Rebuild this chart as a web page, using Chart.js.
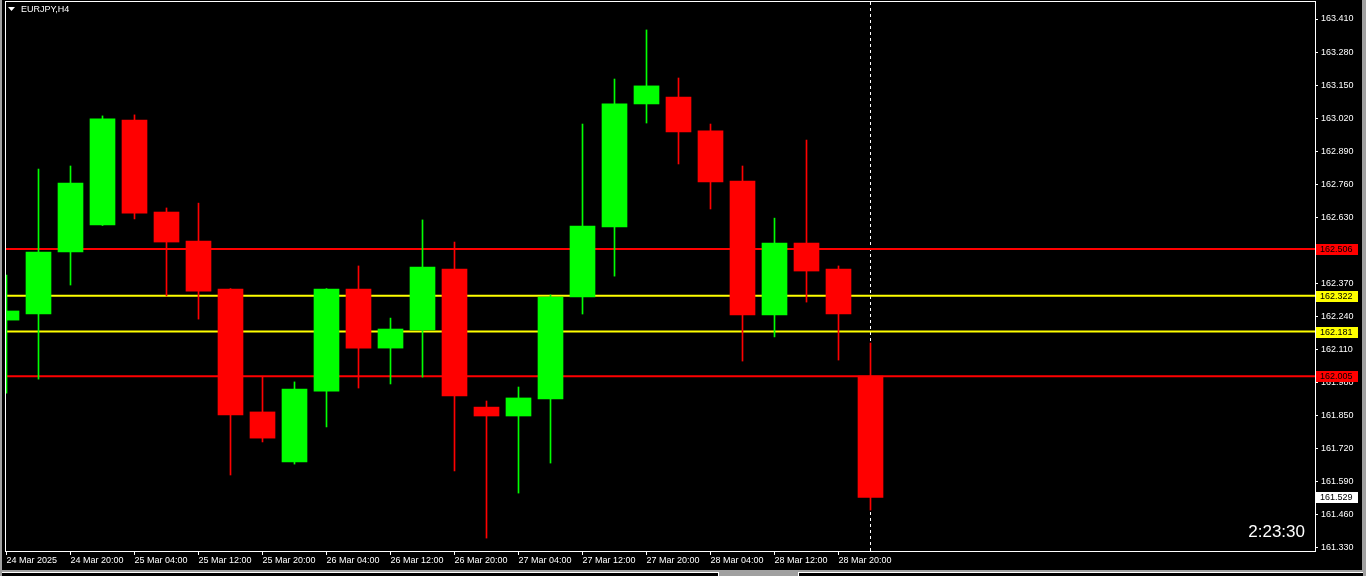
<!DOCTYPE html>
<html><head><meta charset="utf-8">
<script src="https://cdn.jsdelivr.net/npm/chart.js@4/dist/chart.umd.min.js"></script>
<style>
html,body{margin:0;padding:0;background:#000;overflow:hidden;}
#wrap{position:relative;width:1366px;height:576px;background:#000;}
canvas{position:absolute;left:0;top:0;}
.s{position:absolute;}
</style></head><body>
<div id="wrap">
<canvas id="c" width="1366" height="576"></canvas>
<div class="s" style="left:0;top:0;width:2px;height:576px;background:#a0a0a0"></div>
<div class="s" style="left:1362px;top:0;width:4px;height:576px;background:#a0a0a0"></div>
<div class="s" style="left:0;top:570px;width:1366px;height:6px;background:#a0a0a0"></div>
<div class="s" style="left:2px;top:572px;width:716px;height:4px;background:#000;border-top:1px solid #fff;border-right:1px solid #fff"></div>
<div class="s" style="left:798px;top:572px;width:564px;height:4px;background:#000;border-top:1px solid #fff;border-left:1px solid #fff"></div>
</div>
<script>
// ---- data ----
const symbolTitle = 'EURJPY,H4';
const timerText = '2:23:30';
const candleTimes = ['24 Mar 12:00','24 Mar 16:00','24 Mar 20:00','25 Mar 00:00','25 Mar 04:00','25 Mar 08:00','25 Mar 12:00','25 Mar 16:00','25 Mar 20:00','26 Mar 00:00','26 Mar 04:00','26 Mar 08:00','26 Mar 12:00','26 Mar 16:00','26 Mar 20:00','27 Mar 00:00','27 Mar 04:00','27 Mar 08:00','27 Mar 12:00','27 Mar 16:00','27 Mar 20:00','28 Mar 00:00','28 Mar 04:00','28 Mar 08:00','28 Mar 12:00','28 Mar 16:00','28 Mar 20:00','29 Mar 00:00'];
const opens  = [162.226,162.250,162.494,162.600,163.013,162.651,162.537,162.348,161.865,161.668,161.947,162.348,162.116,162.187,162.427,161.884,161.849,161.916,162.317,162.592,163.076,163.103,162.970,162.773,162.246,162.529,162.427,162.006];
const highs  = [162.403,162.820,162.832,163.029,163.033,162.667,162.686,162.350,162.002,161.983,162.350,162.439,162.234,162.620,162.533,161.908,161.963,162.325,162.997,163.174,163.367,163.178,162.997,162.832,162.627,162.934,162.439,162.136];
const lows   = [161.939,161.994,162.364,162.598,162.624,162.321,162.230,161.617,161.747,161.660,161.806,161.959,161.975,162.002,161.633,161.369,161.546,161.664,162.250,162.399,163.001,162.840,162.663,162.065,162.160,162.297,162.069,161.479];
const closes = [162.262,162.494,162.765,163.017,162.647,162.533,162.340,161.853,161.762,161.955,162.348,162.116,162.191,162.435,161.928,161.849,161.920,162.317,162.596,163.076,163.147,162.966,162.769,162.246,162.529,162.419,162.250,161.529];
const xTickIndex  = [0,2,4,6,8,10,12,14,16,18,20,22,24,26];
const xTickLabels = ['24 Mar 2025','24 Mar 20:00','25 Mar 04:00','25 Mar 12:00','25 Mar 20:00','26 Mar 04:00','26 Mar 12:00','26 Mar 20:00','27 Mar 04:00','27 Mar 12:00','27 Mar 20:00','28 Mar 04:00','28 Mar 12:00','28 Mar 20:00'];
const yTicks = [163.410,163.280,163.150,163.020,162.890,162.760,162.630,162.500,162.370,162.240,162.110,161.980,161.850,161.720,161.590,161.460,161.330];
const levelValues = [162.506,162.322,162.181,162.005];
const levelColors = ['#ff0000','#ffff00','#ffff00','#ff0000'];
const currentPrice = 161.529;
const cursorIndex = 27;

// ---- view ----
const X_MIN = -1/64, X_MAX = X_MIN + (1315-6)/32;
const Y_MAX = 163.410 + 17/254.3, Y_MIN = 161.330 - 3/254.3;
const FONT = '"Liberation Sans", Arial, sans-serif';
const GREEN = '#00ff00', RED = '#ff0000';

const candleColors = opens.map((o,i)=> closes[i] >= o ? GREEN : RED);
const bodies = opens.map((o,i)=>({x:i, y:[o, closes[i]]}));
const wicks = lows.map((l,i)=>({x:i, y:[l, highs[i]]}));

const levelDatasets = levelValues.map((v,i)=>({
  type:'line', data:[{x:X_MIN,y:v},{x:X_MAX,y:v}], borderColor:levelColors[i], borderWidth:2,
  pointRadius:0, order:10, tension:0
}));

const decor = {
  id:'decor',
  beforeDatasetsDraw(chart){
    const {ctx, chartArea:a, scales:{x}} = chart;
    const px = Math.floor(x.getPixelForValue(cursorIndex)) + 0.5;
    ctx.save();
    ctx.strokeStyle = '#ffffff'; ctx.lineWidth = 1; ctx.setLineDash([3,3]);
    ctx.beginPath(); ctx.moveTo(px, a.top); ctx.lineTo(px, a.bottom); ctx.stroke();
    ctx.restore();
  },
  afterDraw(chart){
    const {ctx, chartArea:a, scales:{y}} = chart;
    ctx.save();
    // frame
    ctx.strokeStyle = '#ffffff'; ctx.lineWidth = 1;
    ctx.strokeRect(a.left-0.5, a.top-0.5, a.right-a.left+1, a.bottom-a.top+1);
    // title
    ctx.fillStyle = '#ffffff';
    ctx.beginPath(); ctx.moveTo(8,7); ctx.lineTo(15,7); ctx.lineTo(11.5,11); ctx.closePath(); ctx.fill();
    ctx.font = '9px ' + FONT; ctx.textBaseline = 'middle'; ctx.textAlign = 'left';
    ctx.fillText(symbolTitle, 21, 9.5);
    // timer
    ctx.font = '17px ' + FONT; ctx.textAlign = 'right';
    ctx.fillText(timerText, 1305, 532);
    // price labels
    ctx.font = '9px ' + FONT; ctx.textAlign = 'left';
    const box = (v, bg) => {
      const py = Math.round(y.getPixelForValue(v));
      ctx.fillStyle = bg; ctx.fillRect(1316, py-5, 42, 11);
      ctx.fillStyle = '#000000'; ctx.fillText(v.toFixed(3), 1320, py+0.5);
    };
    levelValues.forEach((v,i)=>box(v, levelColors[i]));
    box(currentPrice, '#ffffff');
    ctx.restore();
  }
};

new Chart(document.getElementById('c'), {
  type:'bar',
  data:{ datasets:[
    {label:'wick', data:wicks, backgroundColor:candleColors, barThickness:1, grouped:false, borderWidth:0, order:2},
    {label:'body', data:bodies, backgroundColor:candleColors, barThickness:25, grouped:false, borderWidth:0, order:1},
    ...levelDatasets
  ]},
  options:{
    responsive:false, animation:false, devicePixelRatio:1,
    layout:{padding:{left:6, top:2, right:0, bottom:0}},
    plugins:{legend:{display:false}, tooltip:{enabled:false}},
    scales:{
      x:{
        type:'linear', min:X_MIN, max:X_MAX, offset:false,
        afterFit(s){ s.height = 25; s.paddingLeft = 0; s.paddingRight = 0; },
        afterBuildTicks(s){ s.ticks = xTickIndex.map(v=>({value:v})); },
        grid:{display:true, drawOnChartArea:false, drawTicks:true, tickLength:4, color:'#ffffff', tickColor:'#ffffff', offset:false},
        border:{display:false},
        ticks:{autoSkip:false, maxRotation:0, minRotation:0, align:'start', padding:0, color:'#ffffff',
          font:{family:FONT, size:9}, callback:(v,i)=>xTickLabels[i]}
      },
      y:{
        type:'linear', position:'right', min:Y_MIN, max:Y_MAX,
        afterFit(s){ s.width = 51; s.paddingTop = 0; s.paddingBottom = 0; },
        afterBuildTicks(s){ s.ticks = yTicks.map(v=>({value:v})); },
        grid:{display:true, drawOnChartArea:false, drawTicks:true, tickLength:3, color:'#ffffff', tickColor:'#ffffff'},
        border:{display:false},
        ticks:{padding:3, color:'#ffffff', font:{family:FONT, size:9}, callback:(v)=>Number(v).toFixed(3)}
      }
    }
  },
  plugins:[decor]
});
</script>
</body></html>
